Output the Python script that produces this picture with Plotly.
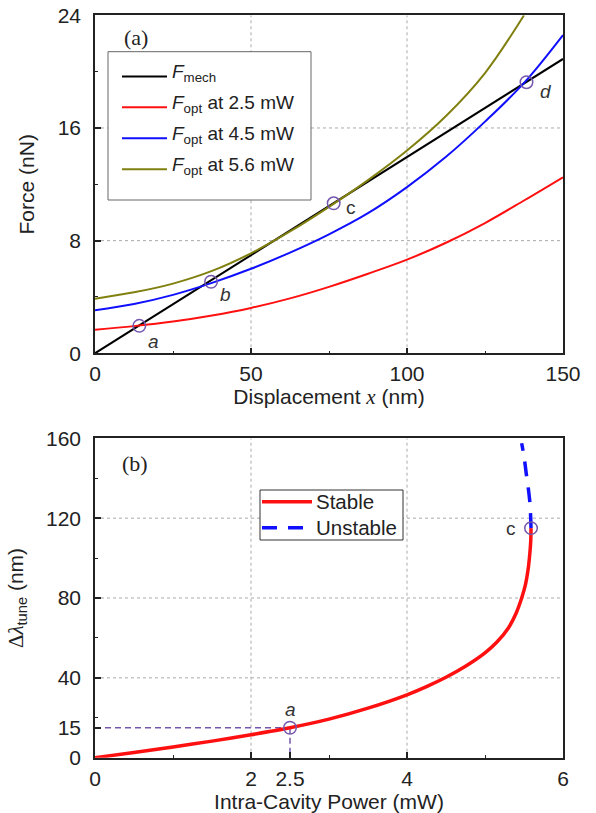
import plotly.graph_objects as go

# ---------------- panel (a): forces vs displacement ----------------
disp_nm = [0, 12.5, 25, 37.5, 50, 62.5, 75, 87.5, 100, 112.5, 125, 137.5, 150]
f_opt_2p5 = [1.68, 1.93, 2.25, 2.68, 3.22, 3.9, 4.72, 5.65, 6.65, 7.85, 9.25, 10.85, 12.5]
f_opt_4p5 = [3.05, 3.5, 4.15, 5.0, 6.0, 7.15, 8.45, 9.95, 11.8, 13.95, 16.45, 19.2, 22.6]
disp_nm_5p6 = [0, 12.5, 25, 37.5, 50, 62.5, 75, 87.5, 100, 112.5, 125, 137.5]
f_opt_5p6 = [3.88, 4.33, 4.95, 5.85, 7.1, 8.65, 10.4, 12.3, 14.4, 16.85, 19.9, 24.0]
mech_disp = [0, 150]
f_mech = [0, 20.9]

# equilibrium points a-d
eq_disp = [14.2, 37.2, 76.5, 138.3]
eq_force = [1.95, 5.08, 10.65, 19.25]
eq_names = ["a", "b", "c", "d"]

# ---------------- panel (b): tuning vs intra-cavity power ----------------
power_stable = [0, 0.5, 1, 1.5, 2, 2.5, 3, 3.5, 4, 4.25, 4.5, 4.75, 5, 5.15, 5.3,
                5.4, 5.47, 5.52, 5.555, 5.575, 5.587, 5.59]
tune_stable = [0, 2.6, 5.4, 8.3, 11.5, 15, 19.3, 24.8, 31.5, 35.6, 40.3, 45.8, 52.5,
               57.8, 65.0, 72.5, 80, 87, 95, 102.5, 109, 115]
power_unstable = [5.59, 5.585, 5.575, 5.555, 5.53, 5.50, 5.47]
tune_unstable = [115, 121, 128, 135, 142, 151, 157.5]

pt_a_power, pt_a_tune = 2.5, 15
pt_c_power, pt_c_tune = 5.59, 115

# axis ticks
ticks_a_x = [0, 50, 100, 150]
minor_a_x = [25, 75, 125]
ticks_a_y = [0, 8, 16, 24]
minor_a_y = [4, 12, 20]
ticks_b_x = [0, 2, 2.5, 4, 6]
tick_text_b_x = ["0", "2", "2.5", "4", "6"]
minor_b_x = [1, 3, 5]
ticks_b_y = [0, 15, 40, 80, 120, 160]
minor_b_y = [20, 60, 100, 140]
grid_a_x = [50, 100]
grid_a_y = [8, 16]
grid_b_x = [2, 4]
grid_b_y = [40, 80, 120]

# legend entries
legend_a_labels = ["<i>F</i><sub>mech</sub>",
                   "<i>F</i><sub>opt</sub> at 2.5 mW",
                   "<i>F</i><sub>opt</sub> at 4.5 mW",
                   "<i>F</i><sub>opt</sub> at 5.6 mW"]
legend_b_labels = ["Stable", "Unstable"]

SANS = "Liberation Sans, Arial, sans-serif"
SERIF = "Liberation Serif, Times New Roman, serif"
INK = "#222222"
PURPLE = "#7457ad"
RED, BLUE, OLIVE = "#ff1010", "#1010ff", "#808010"
DASH_UNSTABLE = "15px,11px"
W, H = 596, 813

fig = go.Figure()

curves_a = [
    (mech_disp, f_mech, "black", "linear"),
    (disp_nm, f_opt_2p5, RED, "spline"),
    (disp_nm, f_opt_4p5, BLUE, "spline"),
    (disp_nm_5p6, f_opt_5p6, OLIVE, "spline"),
]
for (xs, ys, col, shp), lbl in zip(curves_a, legend_a_labels):
    fig.add_trace(go.Scatter(x=xs, y=ys, mode="lines", name=lbl,
                             line=dict(color=col, width=2, shape=shp),
                             showlegend=False))
fig.add_trace(go.Scatter(x=eq_disp, y=eq_force, mode="markers",
                         marker=dict(symbol="circle-open", size=12.5, color=PURPLE,
                                     line=dict(width=1.5, color=PURPLE)),
                         showlegend=False))

# panel (b)
fig.add_trace(go.Scatter(x=[0, pt_a_power], y=[pt_a_tune, pt_a_tune], mode="lines",
                         line=dict(color=PURPLE, width=1.5, dash="6px,4px"),
                         xaxis="x2", yaxis="y2", showlegend=False))
fig.add_trace(go.Scatter(x=[pt_a_power, pt_a_power], y=[pt_a_tune, 0], mode="lines",
                         line=dict(color=PURPLE, width=1.5, dash="6px,4px"),
                         xaxis="x2", yaxis="y2", showlegend=False))
fig.add_trace(go.Scatter(x=power_stable, y=tune_stable, mode="lines",
                         line=dict(color=RED, width=3.5, shape="spline", smoothing=0.8),
                         name="Stable", xaxis="x2", yaxis="y2", showlegend=False))
fig.add_trace(go.Scatter(x=power_unstable, y=tune_unstable, mode="lines",
                         line=dict(color=BLUE, width=3.5, dash=DASH_UNSTABLE,
                                   shape="spline", smoothing=0.8),
                         name="Unstable", xaxis="x2", yaxis="y2", showlegend=False))
fig.add_trace(go.Scatter(x=[pt_a_power, pt_c_power], y=[pt_a_tune, pt_c_tune], mode="markers",
                         marker=dict(symbol="circle-open", size=12.5, color=PURPLE,
                                     line=dict(width=1.5, color=PURPLE)),
                         xaxis="x2", yaxis="y2", showlegend=False))

dom_x = [95 / W, 563 / W]
dom_a = [1 - 353.3 / H, 1 - 15.3 / H]
dom_b = [1 - 757.7 / H, 1 - 438.3 / H]


def axis(domain, rng, ticks, minor, anchor, title, is_x, ticktext=None):
    d = dict(domain=domain, range=rng, tickvals=ticks, anchor=anchor,
             ticks="inside", ticklen=6, tickwidth=1.5, tickcolor=INK,
             showline=True, linewidth=1.5, linecolor=INK, mirror=True,
             showgrid=False, zeroline=False, automargin=False,
             tickfont=dict(family=SANS, size=21, color=INK),
             ticklabelstandoff=1 if is_x else 8,
             minor=dict(tickvals=minor, ticks="inside", ticklen=3,
                        tickwidth=1.2, tickcolor=INK, showgrid=False),
             title=dict(text=title, font=dict(family=SANS, size=21, color=INK),
                        standoff=3 if is_x else 17))
    if ticktext is not None:
        d["ticktext"] = ticktext
    return d


fig.update_layout(
    width=W, height=H, margin=dict(l=0, r=0, t=0, b=0),
    paper_bgcolor="white", plot_bgcolor="white", showlegend=False,
    xaxis=axis(dom_x, [0, 150], ticks_a_x, minor_a_x, "y",
               "Displacement <span style=\"font-family:'Liberation Serif'\"><i>x</i></span> (nm)", True),
    yaxis=axis(dom_a, [0, 24], ticks_a_y, minor_a_y, "x", "Force (nN)", False),
    xaxis2=axis(dom_x, [0, 6], ticks_b_x, minor_b_x, "y2",
                "Intra-Cavity Power (mW)", True, tick_text_b_x),
    yaxis2=axis(dom_b, [0, 160], ticks_b_y, minor_b_y, "x2",
                "<span style=\"font-family:'Liberation Serif'\">Δ<i>λ</i></span><sub>tune</sub> (nm)", False),
)

# dotted grid at selected major ticks
grid_style = dict(color="#aaaaaa", width=1, dash="dot")
for gx in grid_a_x:
    fig.add_shape(type="line", xref="x", yref="y", x0=gx, x1=gx, y0=0, y1=24,
                  line=grid_style, layer="below")
for gy in grid_a_y:
    fig.add_shape(type="line", xref="x", yref="y", x0=0, x1=150, y0=gy, y1=gy,
                  line=grid_style, layer="below")
for gx in grid_b_x:
    fig.add_shape(type="line", xref="x2", yref="y2", x0=gx, x1=gx, y0=0, y1=160,
                  line=grid_style, layer="below")
for gy in grid_b_y:
    fig.add_shape(type="line", xref="x2", yref="y2", x0=0, x1=6, y0=gy, y1=gy,
                  line=grid_style, layer="below")


# boxed legends (pixel layout converted to paper fractions)
def px(x):
    return x / W


def py(y):
    return 1 - y / H


def legend_box(x0, y0, x1, y1, border):
    fig.add_shape(type="rect", xref="paper", yref="paper",
                  x0=px(x0), x1=px(x1), y0=py(y1), y1=py(y0),
                  line=dict(color=border, width=1), fillcolor="white", layer="above")


def legend_row(y, sx0, sx1, tx, color, width, dash, label, size, ydrop=0):
    fig.add_shape(type="line", xref="paper", yref="paper",
                  x0=px(sx0), x1=px(sx1), y0=py(y), y1=py(y),
                  line=dict(color=color, width=width, dash=dash), layer="above")
    fig.add_annotation(x=px(tx), y=py(y), xref="paper", yref="paper", text=label,
                       showarrow=False, xanchor="left", yanchor="middle", yshift=-ydrop,
                       font=dict(family=SANS, size=size, color=INK))


legend_box(108, 51.7, 311, 200, "#666666")
for row_y, (_, _, col, _), lbl in zip([76.5, 107.3, 138.3, 169.3], curves_a, legend_a_labels):
    legend_row(row_y, 122, 167, 170, col, 2, "solid", lbl, 19, ydrop=-3)

legend_box(260, 490, 403, 540, "#333333")
legend_row(501.7, 262, 312, 314, RED, 3.5, "solid", legend_b_labels[0], 20.5)
legend_row(527.7, 262, 312, 314, BLUE, 3.5, DASH_UNSTABLE, legend_b_labels[1], 20.5)

# point labels, panel (a)
lbl_shift = {"a": (14, -16), "b": (14, -13), "c": (17, -4), "d": (19, -9)}
for name, xv, yv in zip(eq_names, eq_disp, eq_force):
    dx, dy = lbl_shift[name]
    txt = name if name == "c" else "<i>%s</i>" % name
    fig.add_annotation(x=xv, y=yv, xref="x", yref="y", text=txt, showarrow=False,
                       xshift=dx, yshift=dy, font=dict(family=SANS, size=19, color="#333"))

# point labels, panel (b)
fig.add_annotation(x=pt_a_power, y=pt_a_tune, xref="x2", yref="y2", text="<i>a</i>",
                   showarrow=False, yshift=18, font=dict(family=SANS, size=19, color="#333"))
fig.add_annotation(x=pt_c_power, y=pt_c_tune, xref="x2", yref="y2", text="c",
                   showarrow=False, xshift=-20, font=dict(family=SANS, size=19, color="#333"))

# panel tags
fig.add_annotation(x=(136 - 95) / 468, y=1 - (37.5 - 15.3) / 338, xref="x domain", yref="y domain",
                   text="(a)", showarrow=False, xanchor="center", yanchor="middle",
                   font=dict(family=SERIF, size=22, color=INK))
fig.add_annotation(x=(135 - 95) / 468, y=1 - (463 - 438.3) / 319.4, xref="x2 domain", yref="y2 domain",
                   text="(b)", showarrow=False, xanchor="center", yanchor="middle",
                   font=dict(family=SERIF, size=22, color=INK))

fig.write_html("out.html")
